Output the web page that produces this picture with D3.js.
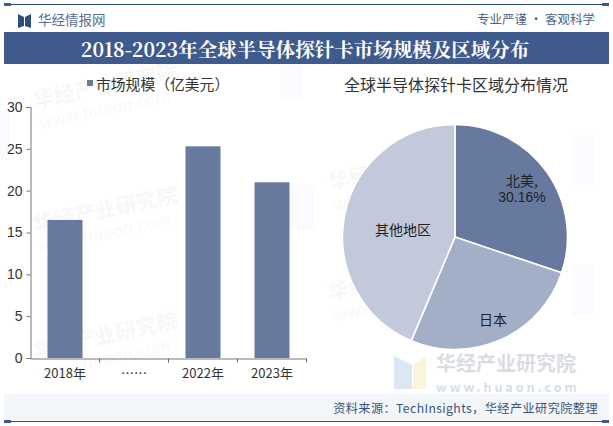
<!DOCTYPE html>
<html><head><meta charset="utf-8">
<script src="https://cdn.jsdelivr.net/npm/d3@7/dist/d3.min.js"></script>
<style>html,body{margin:0;padding:0;background:#fff}svg{display:block}text{font-family:"Noto Sans CJK SC","Noto Sans",sans-serif}</style>
</head><body><svg id="c" width="613" height="426"></svg>
<script>
const years=["2018年","……","2022年","2023年"];
const sizes=[16.5,null,25.3,21];
const yTicks=[0,5,10,15,20,25,30];
const regions=["北美","日本","其他地区"];
const shares=[30.16,26.2,43.64];
const sliceColors=["#67799f","#a3afc7","#c1c9da"];
const barColor="#67799f";
const navy="#3f5a8c";
const svg=d3.select("#c");

// watermarks
const wm=svg.append("g");
[[35,108],[35,232],[35,358],[330,190],[330,300]].forEach(([x,y])=>{
  wm.append("text").attr("transform",`translate(${x},${y}) rotate(-12)`).attr("font-size",21).attr("font-weight",700).attr("fill","#f7f7f7").text("华经产业研究院");
  wm.append("text").attr("transform",`translate(${x+5},${y+21}) rotate(-12)`).attr("font-size",17).attr("fill","#f9f9f9").text("www.huaon.com");
});
[[0,110,10,50],[280,60,22,40],[572,135,22,50],[572,265,22,50],[290,185,25,45]].forEach(([x,y,w,h])=>{
  wm.append("rect").attr("x",x).attr("y",y).attr("width",w).attr("height",h).attr("fill","#fafbfe");
});

// header
svg.append("line").attr("x1",4).attr("x2",609).attr("y1",4.5).attr("y2",4.5).attr("stroke","#2e4a6e").attr("stroke-width",1);
svg.append("rect").attr("x",4).attr("y",3).attr("width",7).attr("height",3).attr("fill",navy);
svg.append("rect").attr("x",602).attr("y",3).attr("width",7).attr("height",3).attr("fill",navy);
svg.append("path").attr("d","M18 14L24 17V26L18 28Z M31 14L25 17V26L31 28Z").attr("fill","#2f4d7c");
svg.append("text").attr("x",38).attr("y",25).attr("font-size",13.5).attr("fill","#5c6f8e").text("华经情报网");
svg.append("text").attr("x",536).attr("y",24).attr("font-size",12.5).attr("text-anchor","middle").attr("fill","#4f6384").text("专业严谨 • 客观科学");
svg.append("rect").attr("x",4).attr("y",32).attr("width",605).attr("height",32).attr("fill",navy);
svg.append("text").attr("x",305).attr("y",57).attr("text-anchor","middle").attr("font-size",19.5).attr("font-weight",700).attr("fill","#fff").style("font-family",'"Noto Serif CJK SC","Noto Sans CJK SC"').text("2018-2023年全球半导体探针卡市场规模及区域分布");

// footer
svg.append("rect").attr("x",4).attr("y",394).attr("width",605).attr("height",26).attr("fill","#f2f5f9");
svg.append("text").attr("x",598).attr("y",413).attr("text-anchor","end").attr("font-size",12.2).attr("letter-spacing",0.4).attr("fill","#3c5474").text("资料来源：TechInsights，华经产业研究院整理");
svg.append("line").attr("x1",4).attr("x2",609).attr("y1",421.5).attr("y2",421.5).attr("stroke","#2e4a6e").attr("stroke-width",1);
svg.append("rect").attr("x",4).attr("y",420).attr("width",7).attr("height",3).attr("fill",navy);
svg.append("rect").attr("x",602).attr("y",420).attr("width",7).attr("height",3).attr("fill",navy);
// bottom-right brand mark
svg.append("path").attr("d","M394 356L412 365V389L394 389Z").attr("fill","#dce7f4");
svg.append("path").attr("d","M426 356L413 365V389L426 389Z").attr("fill","#fbf4dd");
svg.append("text").attr("x",436).attr("y",371).attr("font-size",20).attr("font-weight",700).attr("fill","#d9dde3").text("华经产业研究院");
svg.append("text").attr("x",436).attr("y",392).attr("font-size",12.5).attr("font-weight",700).attr("letter-spacing",3).attr("fill","#d9dde3").text("www.huaon.com");

// bars
const x=d3.scaleBand().domain(years).range([30.5,306.5]);
const y=d3.scaleLinear().domain([0,30]).range([358,107]);
svg.selectAll(".bar").data(years.map((c,i)=>({c,v:sizes[i]})).filter(d=>d.v!=null)).join("rect")
  .attr("class","bar").attr("x",d=>x(d.c)+x.bandwidth()/2-17.5).attr("width",35)
  .attr("y",d=>y(d.v)).attr("height",d=>y(0)-y(d.v)).attr("fill",barColor);
const yAxis=svg.append("g").attr("transform","translate(30.5,0)").call(d3.axisLeft(y).tickValues(yTicks).tickSize(4).tickPadding(4));
yAxis.selectAll("text").attr("font-size",14).attr("fill","#333").style("font-family",'"Liberation Sans"');
const xAxis=svg.append("g").attr("transform","translate(0,358.5)").call(d3.axisBottom(x).tickSize(0).tickPadding(10));
xAxis.selectAll("text").attr("font-size",13).attr("fill","#333");
xAxis.selectAll("line").remove();
x.domain().forEach(c=>xAxis.append("line").attr("x1",x(c)+x.bandwidth()).attr("x2",x(c)+x.bandwidth()).attr("y1",0).attr("y2",4).attr("stroke","#666"));
svg.selectAll(".domain").attr("stroke","#777");
yAxis.selectAll("line").attr("stroke","#777");

// legend
svg.append("rect").attr("x",87).attr("y",80).attr("width",6).attr("height",6).attr("fill",barColor);
svg.append("text").attr("x",96).attr("y",90).attr("font-size",14.8).attr("fill","#333").text("市场规模（亿美元）");

// pie
svg.append("text").attr("x",456).attr("y",91).attr("text-anchor","middle").attr("font-size",16).attr("fill","#333").text("全球半导体探针卡区域分布情况");
const pie=d3.pie().sort(null)(shares);
const arc=d3.arc().innerRadius(0).outerRadius(112.5);
const pg=svg.append("g").attr("transform","translate(455,237)");
pg.selectAll("path").data(pie).join("path").attr("d",arc).attr("fill",(d,i)=>sliceColors[i]).attr("stroke","#fff").attr("stroke-width",1.6);
const labelPos=[[67,-51],[38,88],[-52,-2]];
const lab=pg.append("g").attr("fill","#222").attr("font-size",14).attr("text-anchor","middle");
lab.append("text").attr("x",labelPos[0][0]).attr("y",labelPos[0][1]).text(regions[0]+",");
lab.append("text").attr("x",labelPos[0][0]).attr("y",labelPos[0][1]+16).style("font-family",'"Liberation Sans"').text(shares[0].toFixed(2)+"%");
lab.append("text").attr("x",labelPos[1][0]).attr("y",labelPos[1][1]).text(regions[1]);
lab.append("text").attr("x",labelPos[2][0]).attr("y",labelPos[2][1]).text(regions[2]);
</script></body></html>
